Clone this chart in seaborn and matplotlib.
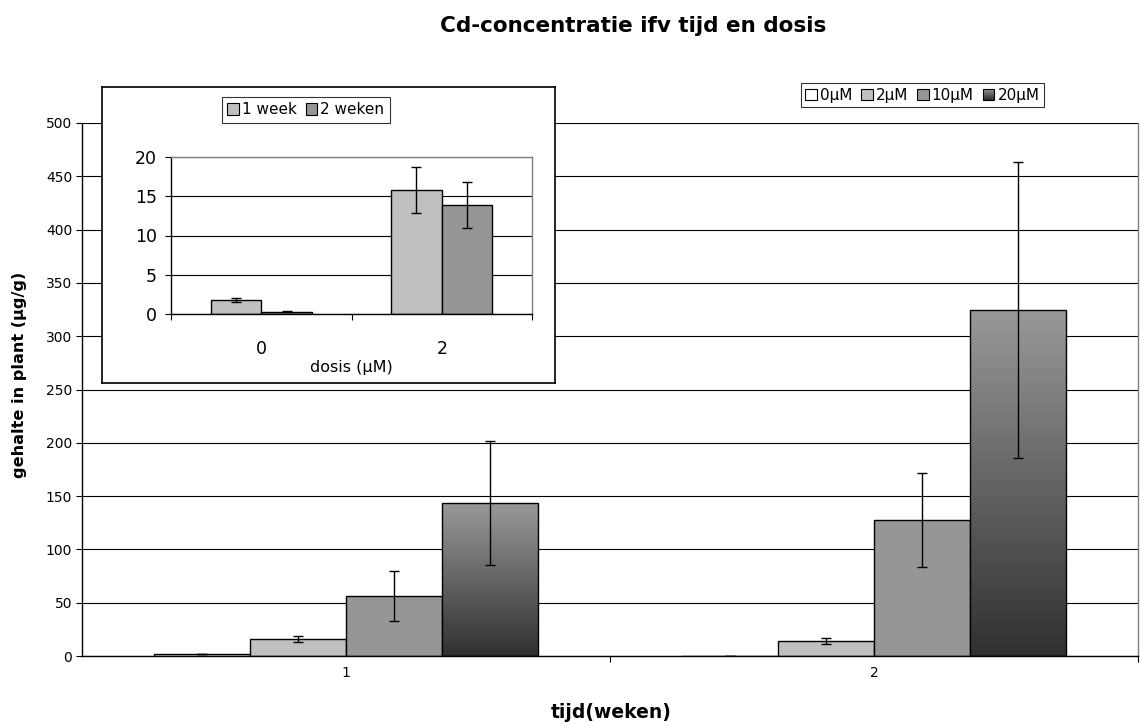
import numpy as np
import pandas as pd
import matplotlib
matplotlib.use("Agg")
import matplotlib.pyplot as plt
import seaborn as sns
from matplotlib.patches import Rectangle
from matplotlib.legend_handler import HandlerBase
from matplotlib.ticker import FixedLocator

# ---------------- data ----------------
weeks = ["1", "2"]
doses = ["0µM", "2µM", "10µM", "20µM"]
mean_week1 = [1.8, 15.8, 56.5, 143.5]
err_week1 = [0.3, 2.9, 23.6, 58.0]
mean_week2 = [0.3, 13.9, 127.5, 324.6]
err_week2 = [0.1, 2.9, 44.0, 138.5]

inset_doses = ["0", "2"]
inset_series = ["1 week", "2 weken"]
inset_week1 = [1.8, 15.8]
inset_week1_err = [0.3, 2.9]
inset_week2 = [0.3, 13.9]
inset_week2_err = [0.1, 2.9]

title = "Cd-concentratie ifv tijd en dosis"
ylabel = "gehalte in plant (µg/g)"
xlabel = "tijd(weken)"
inset_xlabel = "dosis (µM)"

# ---------------- style ----------------
sns.set_theme(style="white")
plt.rcParams["font.family"] = ["DejaVu Sans"]
plt.rcParams["text.color"] = "black"
plt.rcParams["axes.labelcolor"] = "black"
plt.rcParams["xtick.color"] = "black"
plt.rcParams["ytick.color"] = "black"

dose_colors = ["#ffffff", "#c0c0c0", "#969696", "#5a5a5a"]
grad_top = np.array([0x99, 0x99, 0x99]) / 255
grad_bot = np.array([0x30, 0x30, 0x30]) / 255

fig = plt.figure(figsize=(11.4, 7.26), dpi=100)
W, H = 1140, 726


def fig_rect(x0, y0, x1, y1):
    return [x0 / W, 1 - y1 / H, (x1 - x0) / W, (y1 - y0) / H]


# ---------------- main chart ----------------
ax = fig.add_axes(fig_rect(82, 123, 1138, 656))
rows = []
for w, means, errs in [(weeks[0], mean_week1, err_week1), (weeks[1], mean_week2, err_week2)]:
    for d, m, e in zip(doses, means, errs):
        rows.append({"week": w, "dose": d, "value": m, "err": e})
df = pd.DataFrame(rows)

sns.barplot(data=df, x="week", y="value", hue="dose", hue_order=doses, order=weeks,
            palette=dose_colors, width=0.727, edgecolor="black", linewidth=1.0,
            errorbar=None, legend=False, ax=ax, saturation=1)

ax.set_yticks(np.arange(0, 501, 50))
ax.yaxis.grid(True, color="black", linewidth=0.8)
ax.set_axisbelow(True)

bar_containers = list(ax.containers)
for ci, cont in enumerate(bar_containers):
    dose = doses[ci]
    sub = df[df["dose"] == dose].set_index("week").loc[weeks]
    xs, ys = [], []
    for bar in cont:
        xs.append(bar.get_x() + bar.get_width() / 2)
        ys.append(bar.get_height())
        if ci == 3:
            h = bar.get_height()
            n = 256
            t = np.linspace(0, 1, n)[:, None]
            grad = (grad_bot[None, :] * (1 - t) + grad_top[None, :] * t)
            img = np.repeat(grad[:, None, :], 2, axis=1)
            im = ax.imshow(img, extent=[bar.get_x(), bar.get_x() + bar.get_width(), 0, h],
                           origin="lower", aspect="auto", zorder=bar.get_zorder() + 0.01,
                           interpolation="bilinear")
            im.set_clip_path(bar)
            bar.set_facecolor("none")
            bar.set_zorder(bar.get_zorder() + 0.02)
    ax.errorbar(xs, ys, yerr=sub["err"].values, fmt="none", ecolor="black",
                elinewidth=1.0, capsize=3.5, capthick=1.0, zorder=5)

ax.set_xlim(-0.5, 1.5)
ax.set_ylim(0, 500)
ax.set_aspect("auto")

for s in ["left", "bottom"]:
    ax.spines[s].set_color("black")
    ax.spines[s].set_linewidth(1.0)
ax.spines["right"].set_color("#808080")
ax.spines["right"].set_linewidth(1.0)
ax.spines["top"].set_visible(False)

ax.tick_params(axis="y", which="major", direction="out", length=4, width=0.8,
               labelsize=10, colors="black", pad=3, left=True)
ax.tick_params(axis="x", which="major", length=0, labelsize=10, pad=7)
ax.xaxis.set_minor_locator(FixedLocator([0.5, 1.5]))
ax.tick_params(axis="x", which="minor", direction="out", length=4, width=0.8,
               bottom=True, color="black")
ax.set_xlabel("")
ax.set_ylabel("")


class GradientHandler(HandlerBase):
    def create_artists(self, legend, orig_handle, xdescent, ydescent, width, height,
                       fontsize, trans):
        arts = []
        n = 12
        for i in range(n):
            t = i / (n - 1)
            c = grad_bot * (1 - t) + grad_top * t
            r = Rectangle((-xdescent, -ydescent + height * i / n), width, height / n,
                          facecolor=c, edgecolor="none", transform=trans)
            arts.append(r)
        arts.append(Rectangle((-xdescent, -ydescent), width, height, facecolor="none",
                              edgecolor="black", linewidth=0.8, transform=trans))
        return arts


handles = [Rectangle((0, 0), 1, 1, facecolor=c, edgecolor="black", linewidth=0.8)
           for c in dose_colors[:3]]
grad_handle = Rectangle((0, 0), 1, 1)
handles.append(grad_handle)
leg = fig.legend(handles, doses, loc="upper right", bbox_to_anchor=(1044 / W, 1 - 83 / H),
                 ncol=4, fontsize=11, frameon=True, fancybox=False, shadow=False,
                 handlelength=0.75, handleheight=0.75, handletextpad=0.2,
                 columnspacing=0.6, borderpad=0.3, borderaxespad=0,
                 handler_map={grad_handle: GradientHandler()})
leg.get_frame().set_edgecolor("black")
leg.get_frame().set_linewidth(0.8)

# ---------------- inset ----------------
frame = fig.add_axes(fig_rect(102, 87, 555, 383))
frame.set_xticks([])
frame.set_yticks([])
frame.set_facecolor("white")
for s in frame.spines.values():
    s.set_color("black")
    s.set_linewidth(1.2)
    s.set_visible(True)

iax = fig.add_axes(fig_rect(171, 157, 532, 314))
irows = []
for sname, vals, errs in [(inset_series[0], inset_week1, inset_week1_err),
                          (inset_series[1], inset_week2, inset_week2_err)]:
    for d, v, e in zip(inset_doses, vals, errs):
        irows.append({"dosis": d, "series": sname, "value": v, "err": e})
idf = pd.DataFrame(irows)
inset_colors = ["#c0c0c0", "#969696"]
sns.barplot(data=idf, x="dosis", y="value", hue="series", hue_order=inset_series,
            order=inset_doses, palette=inset_colors, width=0.56, edgecolor="black",
            linewidth=1.0, errorbar=None, legend=False, ax=iax, saturation=1)
inset_containers = list(iax.containers)
for ci, cont in enumerate(inset_containers):
    sub = idf[idf["series"] == inset_series[ci]].set_index("dosis").loc[inset_doses]
    xs = [b.get_x() + b.get_width() / 2 for b in cont]
    ys = [b.get_height() for b in cont]
    iax.errorbar(xs, ys, yerr=sub["err"].values, fmt="none", ecolor="black",
                 elinewidth=1.0, capsize=3.5, capthick=1.0, zorder=5)
iax.set_xlim(-0.5, 1.5)
iax.set_ylim(0, 20)
iax.set_yticks([0, 5, 10, 15, 20])
iax.yaxis.grid(True, color="black", linewidth=0.8)
iax.set_axisbelow(True)
iax.set_facecolor("white")
for s in ["left", "bottom"]:
    iax.spines[s].set_color("black")
    iax.spines[s].set_linewidth(1.0)
for s in ["top", "right"]:
    iax.spines[s].set_color("#808080")
    iax.spines[s].set_linewidth(1.0)
iax.tick_params(axis="y", direction="out", length=4, width=0.8, labelsize=12.5,
                colors="black", left=True, pad=6)
iax.tick_params(axis="x", which="major", length=0, labelsize=12.5, pad=19)
iax.xaxis.set_minor_locator(FixedLocator([-0.5, 0.5, 1.5]))
iax.tick_params(axis="x", which="minor", direction="out", length=4, width=0.8,
                bottom=True, color="black")
iax.set_ylabel("")
iax.set_xlabel(inset_xlabel, fontsize=11.5, labelpad=1)

ihandles = [Rectangle((0, 0), 1, 1, facecolor=c, edgecolor="black", linewidth=0.8)
            for c in inset_colors]
ileg = fig.legend(ihandles, inset_series, loc="upper left",
                  bbox_to_anchor=(222 / W, 1 - 97 / H), ncol=2, fontsize=11,
                  frameon=True, fancybox=False, handlelength=0.75, handleheight=0.75,
                  handletextpad=0.2, columnspacing=0.6, borderpad=0.35, borderaxespad=0)
ileg.get_frame().set_edgecolor("black")
ileg.get_frame().set_linewidth(0.8)
ileg.set_zorder(10)

# ---------------- texts ----------------
fig.text(633 / W, 1 - 32 / H, title, ha="center", va="baseline", fontsize=15.5,
         fontweight="bold")
fig.text(20 / W, 1 - 375 / H, ylabel, ha="center", va="center", rotation=90,
         fontsize=11.6, fontweight="bold")
fig.text(611 / W, 1 - 713 / H, xlabel, ha="center", va="center", fontsize=13.5,
         fontweight="bold")

fig.savefig("out.png", dpi=100, facecolor="white")
